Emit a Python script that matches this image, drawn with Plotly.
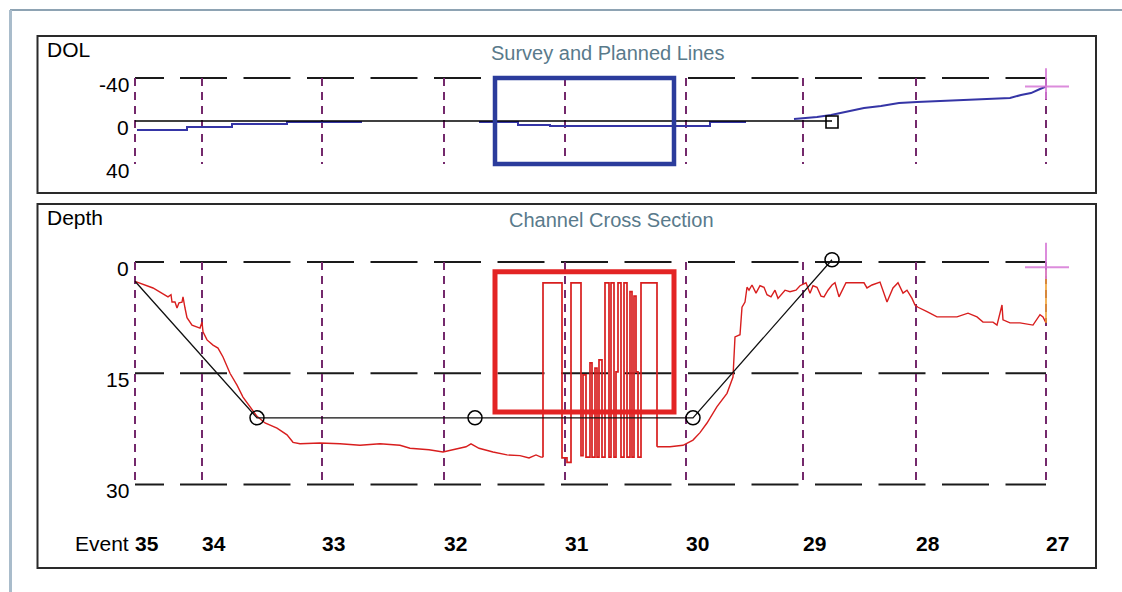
import plotly.graph_objects as go

# ---------------------------------------------------------------- data
EVENTS = [35, 34, 33, 32, 31, 30, 29, 28, 27]
EVENT_STATION = [0, 67, 187, 309, 430, 551, 668, 781, 911]

DOL_TICKS = [-40, 0, 40]
DEPTH_TICKS = [0, 15, 30]
DOL_GRID = [-40]
DEPTH_GRID = [0, 15, 30]

# planned line in plan view (DOL) and its end control point
PLAN_DOL_X = [0, 697]
PLAN_DOL = [0, 0]

# planned profile control points
PLAN_X = [0, 122, 340, 558, 697]
PLAN_DEPTH = [2.6, 21.0, 21.0, 21.0, -0.3]

# surveyed deviation off line (None = no reading)
SURVEY_DOL_X = [2, 52, 52, 97, 97, 152, 152, 227, None, 344, 383, 383, 415, 415,
                575, 575, 611, None, 659, 682, 696, 711, 729, 746, 764, 782, 875,
                886, 896, 905, 911]
SURVEY_DOL = [8.4, 8.4, 5.6, 5.6, 2.8, 2.8, 0.9, 0.9, None, 0.9, 0.9, 3.7, 3.7, 4.7,
              4.7, 0.9, 0.9, None, -1.9, -3.7, -5.6, -8.4, -12.1, -14.0, -16.7, -17.7,
              -21.4, -24.2, -26.0, -29.8, -32.0]

# surveyed depth: drill-in and bottom run
SURVEY_IN_X = [0, 18, 33, 36, 37, 40, 42, 44, 47, 48, 50, 52, 57, 65, 67, 68, 72, 78,
               83, 88, 95, 102, 108, 117, 122, 130, 142, 152, 158, 165, 185, 205, 225,
               245, 265, 275, 294, 308, 323, 331, 336, 344, 358, 372, 385, 394, 401,
               406, 408]
SURVEY_IN_DEPTH = [2.6, 3.5, 4.7, 4.4, 5.4, 5.4, 6.2, 5.5, 5.4, 4.7, 6.2, 7.5, 8.5, 8.9,
                   8.1, 9.4, 10.5, 11.2, 11.6, 12.8, 15.0, 16.6, 18.2, 19.9, 20.8, 21.7,
                   22.4, 23.3, 24.3, 24.5, 24.4, 24.5, 24.7, 24.5, 24.7, 25.1, 25.3,
                   25.6, 25.2, 24.9, 24.5, 25.1, 25.6, 26.0, 26.1, 26.4, 26.0, 26.3, 26.3]

# surveyed depth: signal dropout section (stepped readings)
DROPOUT_X = [408, 408, 427, 432, 436, 446, 448, 451, 455, 457, 460, 462, 464, 467, 470,
             474, 476, 479, 481, 483, 486, 489, 492, 495, 497, 499, 501, 503, 506, 522]
DROPOUT_DEPTH = [26.3, 2.8, 26.4, 27.0, 2.8, 26.1, 15.2, 26.3, 13.6, 26.3, 14.3, 26.3,
                 13.2, 26.3, 2.8, 26.3, 2.8, 26.3, 14.8, 2.8, 26.3, 2.8, 26.3, 4.0,
                 26.3, 4.6, 14.8, 26.3, 2.8, 24.9]

# surveyed depth: climb-out and exit run
SURVEY_OUT_X = [522, 535, 548, 558, 565, 572, 582, 592, 598, 600, 605, 607, 610, 612,
                614, 617, 621, 625, 629, 632, 636, 640, 643, 647, 650, 655, 661, 665,
                671, 675, 678, 682, 686, 689, 693, 697, 700, 704, 708, 711, 729, 732,
                737, 745, 752, 758, 763, 768, 772, 777, 780, 783, 792, 802, 812, 822,
                833, 842, 848, 858, 862, 867, 868, 875, 885, 898, 905, 908, 911]
SURVEY_OUT_DEPTH = [24.9, 24.9, 24.7, 24.0, 23.0, 21.7, 19.5, 17.7, 15.5, 10.1, 9.8,
                    6.1, 5.4, 3.4, 3.8, 3.1, 4.2, 3.2, 3.4, 4.4, 4.7, 3.8, 4.9, 4.3,
                    3.8, 4.0, 3.8, 3.2, 2.8, 4.2, 3.2, 3.4, 4.6, 4.7, 3.8, 3.1, 2.8,
                    4.7, 3.5, 2.8, 2.8, 3.5, 3.1, 2.7, 5.4, 3.5, 2.8, 4.2, 3.8, 4.9,
                    5.8, 6.1, 6.7, 7.4, 7.4, 7.4, 6.9, 7.4, 8.1, 8.1, 8.5, 5.8, 7.8,
                    8.2, 8.2, 8.5, 7.1, 7.4, 8.2]

# selected window (station span) shown in both views
WINDOW_X = [360, 539]
WINDOW_DOL = [-40, 40]
WINDOW_DEPTH = [1.3, 20.2]

# current head location
HEAD_X = 911
HEAD_DOL = -32
HEAD_DEPTH = 0.7
HEAD_READING = [1.0, 8.2]

# ---------------------------------------------------------------- geometry
W, H = 1122, 592
PX_X0, PX_PER_X = 135.0, 1.0          # station 0 position, px per station unit
PY_DOL0, PX_PER_DOL = 121.0, 1.075
PY_DEP0, PX_PER_DEP = 262.0, 7.42


def px(v):
    return v / W


def py(v):
    return 1 - v / H


X_DOM = (110, 1085)
X_RANGE = [(X_DOM[0] - PX_X0) / PX_PER_X, (X_DOM[1] - PX_X0) / PX_PER_X]
TOP_DOM = (58, 182)
TOP_RANGE = [(TOP_DOM[1] - PY_DOL0) / PX_PER_DOL, (TOP_DOM[0] - PY_DOL0) / PX_PER_DOL]
BOT_DOM = (232, 505)
BOT_RANGE = [(BOT_DOM[1] - PY_DEP0) / PX_PER_DEP, (BOT_DOM[0] - PY_DEP0) / PX_PER_DEP]

FONT = "Liberation Sans, Arial, sans-serif"
GRID_DASH = "29px,16px," + ",".join(["47px,16.5px"] * 16)
VDASH = "8px,6px"
VCOLOR = "#74296c"
RED = "#d81e1e"
BLUE = "#3535a6"
TITLE_COLOR = "#597a8b"

fig = go.Figure()

# ---------------------------------------------------------------- plan view
fig.add_trace(go.Scatter(x=SURVEY_DOL_X, y=SURVEY_DOL, mode="lines",
                         line=dict(color=BLUE, width=2), connectgaps=False,
                         xaxis="x", yaxis="y", hoverinfo="skip"))
fig.add_trace(go.Scatter(x=PLAN_DOL_X, y=PLAN_DOL, mode="lines",
                         line=dict(color="black", width=1.6),
                         xaxis="x", yaxis="y", hoverinfo="skip"))
fig.add_trace(go.Scatter(x=[PLAN_DOL_X[-1]], y=[1.0], mode="markers",
                         marker=dict(symbol="square-open", size=12, color="black",
                                     line=dict(width=1.6)),
                         xaxis="x", yaxis="y", hoverinfo="skip"))

# ---------------------------------------------------------------- profile view
fig.add_trace(go.Scatter(x=SURVEY_IN_X, y=SURVEY_IN_DEPTH, mode="lines",
                         line=dict(color=RED, width=1.4),
                         xaxis="x2", yaxis="y2", hoverinfo="skip"))
fig.add_trace(go.Scatter(x=DROPOUT_X, y=DROPOUT_DEPTH, mode="lines",
                         line=dict(color=RED, width=1.7, shape="hv"),
                         xaxis="x2", yaxis="y2", hoverinfo="skip"))
fig.add_trace(go.Scatter(x=SURVEY_OUT_X, y=SURVEY_OUT_DEPTH, mode="lines",
                         line=dict(color=RED, width=1.4),
                         xaxis="x2", yaxis="y2", hoverinfo="skip"))
fig.add_trace(go.Scatter(x=PLAN_X, y=PLAN_DEPTH, mode="lines",
                         line=dict(color="#111111", width=1.3),
                         xaxis="x2", yaxis="y2", hoverinfo="skip"))
fig.add_trace(go.Scatter(x=PLAN_X[1:], y=PLAN_DEPTH[1:], mode="markers",
                         marker=dict(symbol="circle-open", size=14, color="black",
                                     line=dict(width=1.5)),
                         xaxis="x2", yaxis="y2", hoverinfo="skip"))

shapes = []

# grid: horizontal long dashes, vertical short dashes at each event
for v in DOL_GRID:
    shapes.append(dict(type="line", xref="x", yref="y", x0=EVENT_STATION[0],
                       x1=EVENT_STATION[-1], y0=v, y1=v, layer="below",
                       line=dict(color="#1a1a1a", width=2, dash=GRID_DASH)))
for v in DEPTH_GRID:
    shapes.append(dict(type="line", xref="x2", yref="y2", x0=EVENT_STATION[0],
                       x1=EVENT_STATION[-1], y0=v, y1=v, layer="below",
                       line=dict(color="#1a1a1a", width=2, dash=GRID_DASH)))
for s in EVENT_STATION:
    shapes.append(dict(type="line", xref="x", yref="y", x0=s, x1=s,
                       y0=DOL_TICKS[0], y1=DOL_TICKS[-1], layer="below",
                       line=dict(color=VCOLOR, width=2, dash=VDASH)))
    shapes.append(dict(type="line", xref="x2", yref="y2", x0=s, x1=s,
                       y0=DEPTH_TICKS[0], y1=DEPTH_TICKS[-1], layer="below",
                       line=dict(color=VCOLOR, width=2, dash=VDASH)))

# selected window boxes
shapes.append(dict(type="rect", xref="x", yref="y", x0=WINDOW_X[0], x1=WINDOW_X[1],
                   y0=WINDOW_DOL[0], y1=WINDOW_DOL[1], layer="above",
                   line=dict(color="#2b3c9c", width=4.5)))
shapes.append(dict(type="rect", xref="x2", yref="y2", x0=WINDOW_X[0], x1=WINDOW_X[1],
                   y0=WINDOW_DEPTH[0], y1=WINDOW_DEPTH[1], layer="above",
                   line=dict(color="#e32424", width=5)))

# head position crosshairs
CROSS = "rgba(214,120,214,0.85)"
shapes += [
    dict(type="line", xref="x", yref="y", x0=HEAD_X - 21, x1=HEAD_X + 23,
         y0=HEAD_DOL, y1=HEAD_DOL, line=dict(color=CROSS, width=2)),
    dict(type="line", xref="x", yref="y", x0=HEAD_X, x1=HEAD_X,
         y0=HEAD_DOL - 17, y1=HEAD_DOL + 12, line=dict(color=CROSS, width=2)),
    dict(type="line", xref="x2", yref="y2", x0=HEAD_X, x1=HEAD_X,
         y0=HEAD_READING[0], y1=HEAD_READING[1],
         line=dict(color="#f0a030", width=1.6)),
    dict(type="line", xref="x2", yref="y2", x0=HEAD_X - 21, x1=HEAD_X + 23,
         y0=HEAD_DEPTH, y1=HEAD_DEPTH, line=dict(color=CROSS, width=2)),
    dict(type="line", xref="x2", yref="y2", x0=HEAD_X, x1=HEAD_X,
         y0=HEAD_DEPTH - 3.3, y1=HEAD_DEPTH + 1.6, line=dict(color=CROSS, width=2)),
]

# panel frames and window edges
shapes += [
    dict(type="rect", xref="paper", yref="paper", x0=px(37.5), x1=px(1096),
         y0=py(193), y1=py(36), line=dict(color="#2a2a2a", width=2)),
    dict(type="rect", xref="paper", yref="paper", x0=px(37.5), x1=px(1096),
         y0=py(568), y1=py(204), line=dict(color="#2a2a2a", width=2)),
    dict(type="line", xref="paper", yref="paper", x0=px(10), x1=1, y0=py(10),
         y1=py(10), line=dict(color="#8ea3b3", width=2)),
    dict(type="line", xref="paper", yref="paper", x0=px(10.5), x1=px(10.5),
         y0=0, y1=py(10), line=dict(color="#a9bccb", width=3)),
]

ann = []


def label(text, x, y, size=21, color="black", xanchor="left", xref="paper",
          yref="paper"):
    ann.append(dict(text=text, x=x, y=y, xref=xref, yref=yref, showarrow=False,
                    xanchor=xanchor, yanchor="middle",
                    font=dict(family=FONT, size=size, color=color)))


label("DOL", px(45), py(50))
label("Depth", px(45), py(218))
label("Survey and Planned Lines", px(608), py(53), size=20, color=TITLE_COLOR,
      xanchor="center")
label("Channel Cross Section", px(611), py(220), size=20, color=TITLE_COLOR,
      xanchor="center")

for t in DOL_TICKS:
    ann.append(dict(text=str(t), x=-4, y=t, xref="x", yref="y", showarrow=False,
                    xanchor="right", yanchor="middle", yshift=-6,
                    font=dict(family=FONT, size=21, color="black")))
for t in DEPTH_TICKS:
    ann.append(dict(text=str(t), x=-4, y=t, xref="x2", yref="y2", showarrow=False,
                    xanchor="right", yanchor="middle", yshift=-6,
                    font=dict(family=FONT, size=21, color="black")))

label("Event", px(131), py(543), xanchor="right")
for e, s in zip(EVENTS, EVENT_STATION):
    ann.append(dict(text=f"<b>{e}</b>", x=s, y=py(543), xref="x2", yref="paper",
                    showarrow=False, xanchor="left", yanchor="middle", xshift=-2,
                    font=dict(family=FONT, size=21, color="black")))

axis_common = dict(visible=False, showgrid=False, zeroline=False, fixedrange=True)
fig.update_layout(
    width=W, height=H,
    margin=dict(l=0, r=0, t=0, b=0),
    paper_bgcolor="white", plot_bgcolor="rgba(0,0,0,0)",
    showlegend=False,
    xaxis=dict(domain=[px(X_DOM[0]), px(X_DOM[1])], range=X_RANGE, anchor="y",
               **axis_common),
    yaxis=dict(domain=[py(TOP_DOM[1]), py(TOP_DOM[0])], range=TOP_RANGE, anchor="x",
               **axis_common),
    xaxis2=dict(domain=[px(X_DOM[0]), px(X_DOM[1])], range=X_RANGE, anchor="y2",
                **axis_common),
    yaxis2=dict(domain=[py(BOT_DOM[1]), py(BOT_DOM[0])], range=BOT_RANGE, anchor="x2",
                **axis_common),
    shapes=shapes,
    annotations=ann,
)

fig.write_html("out.html", config=dict(displayModeBar=False))
